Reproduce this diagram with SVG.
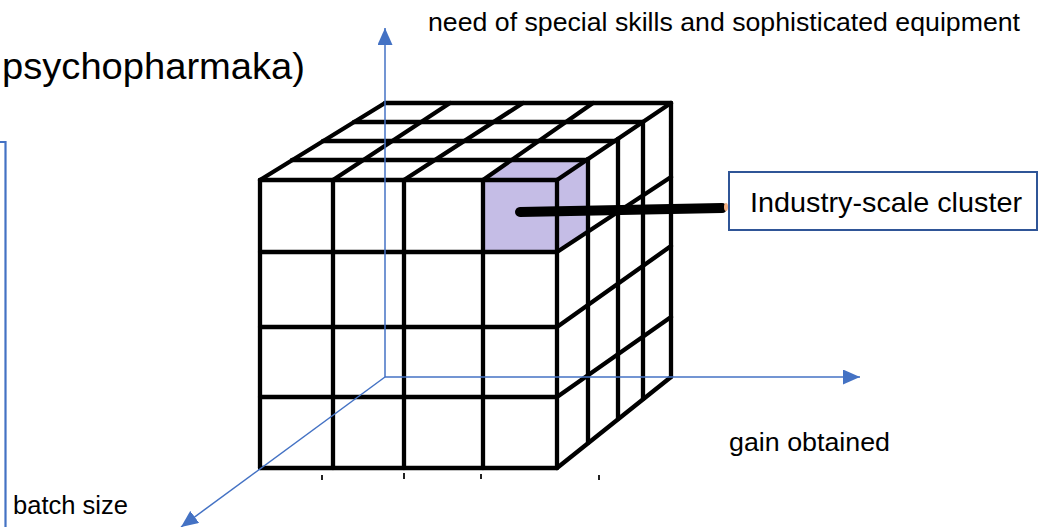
<svg xmlns="http://www.w3.org/2000/svg" width="1040" height="527" viewBox="0 0 1040 527">
<style>
text{font-family:"Liberation Sans",Arial,sans-serif;fill:#000}
.g{stroke:#000;stroke-width:4.3;stroke-linecap:round;fill:none}
.hl{fill:#C5BDE6;stroke:none}
.ax{stroke:#4472C4;stroke-width:1.5;fill:none}
</style>
<defs>
<marker id="arr" viewBox="0 0 17 15" refX="17" refY="7.5" markerWidth="17" markerHeight="15" markerUnits="userSpaceOnUse" orient="auto">
<path d="M0,0 L17,7.5 L0,15 z" fill="#4472C4"/>
</marker>
</defs>
<rect width="1040" height="527" fill="#fff"/>
<text x="2" y="79" font-size="37" textLength="303" lengthAdjust="spacingAndGlyphs">psychopharmaka)</text>
<text x="428" y="31" font-size="25" textLength="592" lengthAdjust="spacingAndGlyphs">need of special skills and sophisticated equipment</text>
<path d="M0,142 H5.5 V527" stroke="#4472C4" stroke-width="2.2" fill="none"/>
<g id="cube">
<polygon class="hl" points="483,180 557,180 557,252 483,252"/>
<polygon class="hl" points="483,180 557,180 588,159 512,160"/>
<polygon class="hl" points="557,180 588,159 588,231 557,252"/>
<g class="g">
<path d="M260,180 V468 M333,180 V468 M404,180 V468 M483,180 V468 M557,180 V468"/>
<path d="M260,180 H557 M260,252 H557 M260,327 H557 M260,397 H557 M260,468 H557"/>
<path d="M385,103 H671 M354,122 H643 M323,141 H618 M292,160 H588"/>
<path d="M260,180 L385,103 M333,180 L450,103 M404,180 L523,103 M483,180 L593,103 M557,180 L671,103"/>
<path d="M588,159 V443 M618,139 V419 M643,122 V399 M671,103 V377"/>
<path d="M557,252 L671,177 M557,327 L671,246 M557,397 L671,317 M557,468 L671,377"/>
</g>
<g fill="#222">
<rect x="321" y="475" width="2" height="5"/>
<rect x="403" y="473" width="2" height="6"/>
<rect x="480" y="474" width="2" height="5"/>
<rect x="598" y="475" width="2" height="5"/>
</g>
</g>
<g id="connectors">
<path class="ax" d="M385,377 V28" marker-end="url(#arr)"/>
<path class="ax" d="M385,377 H860" marker-end="url(#arr)"/>
<path class="ax" d="M385,377 L181,527" marker-end="url(#arr)"/>
<path d="M520,212 L722,208" stroke="#000" stroke-width="10" stroke-linecap="round"/>
<ellipse cx="726" cy="207" rx="2" ry="4" fill="#F4B183"/>
</g>
<g id="cluster">
<rect x="729" y="172" width="308" height="58" fill="#fff" stroke="#2F5597" stroke-width="2"/>
<text x="750" y="212" font-size="28" textLength="272" lengthAdjust="spacingAndGlyphs">Industry-scale cluster</text>
</g>
<text id="gain" x="729" y="451" font-size="26" textLength="161" lengthAdjust="spacingAndGlyphs">gain obtained</text>
<text id="batch" x="13" y="514" font-size="25" textLength="115" lengthAdjust="spacingAndGlyphs">batch size</text>
</svg>
